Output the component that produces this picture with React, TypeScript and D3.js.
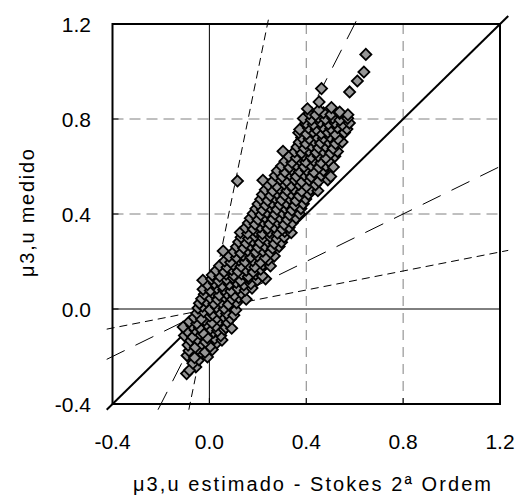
import React from "react";
import * as d3 from "d3";

const xTicks = [-0.4, 0.0, 0.4, 0.8, 1.2];
const yTicks = [-0.4, 0.0, 0.4, 0.8, 1.2];
const xTitle = "\u03bc3,u estimado - Stokes 2\u00aa Ordem";
const yTitle = "\u03bc3,u medido";

// reference lines y = k * x
const refSlopes = [5, 2, 1, 0.5, 0.2];
const refStyles = ["8,5", "20,12", "", "20,12", "8,5"];

const lowerPoints: [number, number][] = [
  [-0.094,-0.272],[-0.056,-0.244],[-0.082,-0.258],[-0.068,-0.228],[-0.043,-0.214],
  [-0.092,-0.196],[-0.061,-0.205],[-0.028,-0.188],[-0.008,-0.202],
  [-0.084,-0.176],[-0.047,-0.168],[-0.018,-0.182],[0.012,-0.171],
  [-0.088,-0.152],[-0.058,-0.161],[-0.031,-0.147],[0.003,-0.158],[0.031,-0.142],
  [-0.078,-0.133],[-0.049,-0.128],[-0.016,-0.139],[0.022,-0.124],[0.052,-0.131],
  [-0.103,-0.112],[-0.069,-0.118],[-0.038,-0.106],[-0.009,-0.121],[0.018,-0.098],[0.047,-0.112],
  [-0.091,-0.094],[-0.059,-0.088],[-0.027,-0.101],[0.004,-0.083],[0.034,-0.092],[0.061,-0.086],
  [-0.108,-0.076],[-0.072,-0.071],[-0.041,-0.079],[-0.012,-0.064],[0.026,-0.072],[0.068,-0.078],[0.092,-0.081],
  [-0.083,-0.054],[-0.052,-0.061],[-0.021,-0.047],[0.011,-0.058],[0.043,-0.049],[0.074,-0.056],
  [-0.063,-0.036],[-0.033,-0.042],[0.002,-0.029],[0.031,-0.038],[0.058,-0.031],[0.088,-0.041],
  [-0.052,-0.018],[-0.024,-0.011],[0.013,-0.022],[0.042,-0.014],[0.071,-0.019],[0.101,-0.026],
  [-0.047,0.004],[-0.028,0.012],[0.002,-0.003],[0.029,0.008],[0.061,0.002],[0.087,0.011],[0.109,-0.004],
  [-0.041,0.024],[-0.013,0.031],[0.019,0.022],[0.048,0.028],[0.079,0.019],[0.112,0.026],
  [-0.032,0.043],[0.003,0.047],[0.034,0.039],[0.062,0.051],[0.093,0.042],[0.121,0.048],[0.152,0.041],
  [-0.021,0.062],[0.012,0.068],[0.041,0.058],[0.072,0.064],[0.103,0.057],[0.132,0.066],
  [-0.026,0.083],[0.004,0.078],[0.031,0.088],[0.059,0.081],[0.089,0.076],[0.118,0.086],[0.148,0.079],[0.176,0.088],
];

const middlePoints: [number, number][] = [
  [-0.008,0.102],[0.021,0.108],[0.053,0.097],[0.082,0.104],[0.111,0.112],[0.142,0.101],[0.171,0.107],
  [-0.027,0.121],[0.009,0.126],[0.038,0.118],[0.071,0.124],[0.098,0.131],[0.129,0.119],[0.162,0.128],[0.198,0.122],[0.232,0.127],
  [0.012,0.143],[0.043,0.138],[0.069,0.147],[0.101,0.141],[0.133,0.148],[0.161,0.137],[0.191,0.146],[0.219,0.139],
  [0.028,0.162],[0.061,0.157],[0.092,0.166],[0.119,0.158],[0.152,0.163],[0.181,0.156],[0.212,0.168],
  [0.042,0.182],[0.073,0.176],[0.098,0.187],[0.131,0.179],[0.163,0.184],[0.188,0.177],[0.221,0.186],[0.252,0.181],
  [0.063,0.202],[0.088,0.197],[0.122,0.206],[0.148,0.198],[0.179,0.204],[0.211,0.196],[0.243,0.207],
  [0.081,0.222],[0.112,0.217],[0.139,0.226],[0.171,0.219],[0.198,0.224],[0.231,0.216],[0.268,0.223],
  [0.057,0.244],[0.101,0.241],[0.129,0.236],[0.158,0.246],[0.192,0.239],[0.221,0.244],[0.252,0.238],
  [0.112,0.262],[0.141,0.257],[0.169,0.266],[0.201,0.259],[0.229,0.264],[0.261,0.256],[0.288,0.263],
  [0.121,0.282],[0.152,0.277],[0.178,0.286],[0.209,0.279],[0.242,0.284],[0.268,0.276],[0.298,0.281],
  [0.131,0.302],[0.162,0.297],[0.188,0.306],[0.221,0.299],[0.251,0.304],[0.279,0.296],[0.309,0.303],
  [0.128,0.322],[0.158,0.318],[0.192,0.326],[0.219,0.317],[0.248,0.324],[0.281,0.319],[0.311,0.327],[0.338,0.321],
  [0.149,0.342],[0.181,0.337],[0.209,0.346],[0.241,0.339],[0.268,0.344],[0.301,0.336],[0.329,0.343],
  [0.161,0.362],[0.189,0.357],[0.221,0.366],[0.249,0.358],[0.282,0.364],[0.309,0.356],[0.342,0.362],
  [0.169,0.382],[0.201,0.377],[0.229,0.386],[0.262,0.379],[0.291,0.384],[0.322,0.376],[0.358,0.383],
  [0.181,0.402],[0.212,0.397],[0.238,0.406],[0.271,0.399],[0.302,0.404],[0.331,0.396],[0.372,0.401],
  [0.192,0.422],[0.219,0.417],[0.251,0.426],[0.279,0.419],[0.312,0.424],[0.341,0.416],[0.378,0.423],
  [0.201,0.442],[0.232,0.437],[0.258,0.446],[0.291,0.439],[0.318,0.444],[0.352,0.436],[0.388,0.443],
  [0.212,0.462],[0.241,0.457],[0.271,0.466],[0.298,0.459],[0.331,0.464],[0.358,0.456],[0.398,0.463],
  [0.219,0.482],[0.252,0.477],[0.279,0.486],[0.312,0.479],[0.338,0.484],[0.371,0.476],[0.409,0.483],
];

const upperPoints: [number, number][] = [
  [0.116,0.539],
  [0.231,0.502],[0.262,0.497],[0.289,0.506],[0.321,0.499],[0.348,0.504],[0.381,0.496],[0.418,0.503],[0.448,0.498],
  [0.243,0.522],[0.278,0.517],[0.309,0.526],[0.338,0.519],[0.369,0.524],[0.401,0.516],[0.438,0.523],
  [0.221,0.542],[0.261,0.537],[0.292,0.546],[0.319,0.539],[0.352,0.544],[0.381,0.536],[0.412,0.543],[0.451,0.538],[0.489,0.544],
  [0.272,0.562],[0.301,0.557],[0.331,0.566],[0.359,0.558],[0.392,0.564],[0.421,0.556],[0.462,0.563],[0.501,0.558],
  [0.281,0.582],[0.312,0.577],[0.339,0.586],[0.372,0.579],[0.401,0.584],[0.432,0.576],[0.471,0.583],
  [0.298,0.602],[0.331,0.597],[0.358,0.606],[0.391,0.599],[0.419,0.604],[0.452,0.596],[0.481,0.603],[0.512,0.598],
  [0.312,0.622],[0.341,0.617],[0.372,0.626],[0.398,0.619],[0.431,0.624],[0.461,0.616],[0.492,0.623],
  [0.328,0.642],[0.359,0.637],[0.388,0.646],[0.421,0.639],[0.449,0.644],[0.481,0.636],[0.518,0.643],
  [0.304,0.664],[0.352,0.662],[0.381,0.657],[0.409,0.666],[0.441,0.659],[0.469,0.664],[0.501,0.656],[0.529,0.663],
  [0.362,0.682],[0.392,0.677],[0.421,0.686],[0.451,0.679],[0.479,0.684],[0.511,0.676],
  [0.371,0.702],[0.398,0.697],[0.431,0.706],[0.459,0.699],[0.491,0.704],[0.521,0.696],[0.548,0.703],
  [0.381,0.722],[0.412,0.717],[0.441,0.726],[0.471,0.719],[0.498,0.724],[0.531,0.716],
  [0.369,0.742],[0.401,0.737],[0.428,0.746],[0.462,0.739],[0.489,0.744],[0.519,0.736],[0.558,0.743],
  [0.373,0.756],[0.409,0.762],[0.441,0.757],[0.468,0.766],[0.501,0.759],[0.529,0.764],[0.568,0.758],
  [0.398,0.782],[0.429,0.777],[0.458,0.786],[0.491,0.779],[0.518,0.784],[0.549,0.776],[0.578,0.783],
  [0.388,0.802],[0.421,0.797],[0.449,0.806],[0.479,0.799],[0.509,0.804],[0.539,0.796],[0.571,0.803],
  [0.412,0.822],[0.439,0.817],[0.471,0.826],[0.502,0.819],[0.538,0.824],[0.572,0.818],
  [0.405,0.843],[0.452,0.838],[0.504,0.848],[0.538,0.829],
  [0.453,0.872],[0.579,0.914],[0.463,0.928],[0.611,0.96],[0.638,0.998],[0.646,1.072],
];

const W = 519;
const H = 500;
const FONT = "'Liberation Sans', Arial, sans-serif";

export default function App() {
  const x = d3.scaleLinear().domain([-0.4, 1.2]).range([112.5, 500]);
  const y = d3.scaleLinear().domain([-0.4, 1.2]).range([404, 24]);
  const ext: [number, number] = [-0.424, 1.234];
  const points = [...lowerPoints, ...middlePoints, ...upperPoints];
  const diamond = d3.symbol(d3.symbolSquare, 62)() as string;

  const refLine = (k: number) => {
    let x0 = ext[0], x1 = ext[1];
    if (k > 1) { x0 = ext[0] / k; x1 = ext[1] / k; }
    const line = d3.line<number>().x((v) => x(v)).y((v) => y(k * v));
    return line([x0, x1]) as string;
  };

  return (
    <svg width={W} height={H} style={{ position: "absolute", left: 0, top: 0, background: "#fff" }}>
      {xTicks.filter((t) => t !== 0 && t !== -0.4 && t !== 1.2).map((t) => (
        <line key={"gx" + t} x1={x(t)} x2={x(t)} y1={y(1.2)} y2={y(-0.4)} stroke="#808080" strokeWidth={1} strokeDasharray="10,7" />
      ))}
      {yTicks.filter((t) => t !== 0 && t !== -0.4 && t !== 1.2).map((t) => (
        <line key={"gy" + t} y1={y(t)} y2={y(t)} x1={x(-0.4)} x2={x(1.2)} stroke="#808080" strokeWidth={1} strokeDasharray="11,6" />
      ))}
      <line x1={x(0)} x2={x(0)} y1={y(1.2)} y2={y(-0.4)} stroke="#000" strokeWidth={1} />
      <line y1={y(0)} y2={y(0)} x1={x(-0.4)} x2={x(1.2)} stroke="#000" strokeWidth={1} />
      {xTicks.map((t) => (
        <line key={"tx" + t} x1={x(t)} x2={x(t)} y1={y(-0.4)} y2={y(-0.4) - 6} stroke="#000" strokeWidth={1} />
      ))}
      {yTicks.map((t) => (
        <line key={"ty" + t} x1={x(-0.4)} x2={x(-0.4) + 6} y1={y(t)} y2={y(t)} stroke="#000" strokeWidth={1} />
      ))}
      {refSlopes.map((k, i) => (
        <path key={"r" + k} d={refLine(k)} fill="none" stroke="#000" strokeWidth={k === 1 ? 2 : 1} strokeDasharray={refStyles[i] || undefined} />
      ))}
      {points.map((p, i) => (
        <path key={"p" + i} d={diamond} transform={`translate(${x(p[0])},${y(p[1])}) rotate(45)`} fill="#969696" stroke="#000" strokeWidth={1.8} />
      ))}
      <rect x={x(-0.4)} y={y(1.2)} width={x(1.2) - x(-0.4)} height={y(-0.4) - y(1.2)} fill="none" stroke="#000" strokeWidth={2} />
      {xTicks.map((t) => (
        <text key={"lx" + t} x={x(t)} y={449} textAnchor="middle" fontFamily={FONT} fontSize={21} fill="#000">{t.toFixed(1)}</text>
      ))}
      {yTicks.map((t) => (
        <text key={"ly" + t} x={91} y={y(t) + 7.5} textAnchor="end" fontFamily={FONT} fontSize={21} fill="#000">{t.toFixed(1)}</text>
      ))}
      <text x={312} y={491} textAnchor="middle" fontFamily={FONT} fontSize={20} fill="#000" textLength={358} lengthAdjust="spacing">{xTitle}</text>
      <text transform={`translate(34,213) rotate(-90)`} textAnchor="middle" fontFamily={FONT} fontSize={20} fill="#000" textLength={128} lengthAdjust="spacing">{yTitle}</text>
    </svg>
  );
}
